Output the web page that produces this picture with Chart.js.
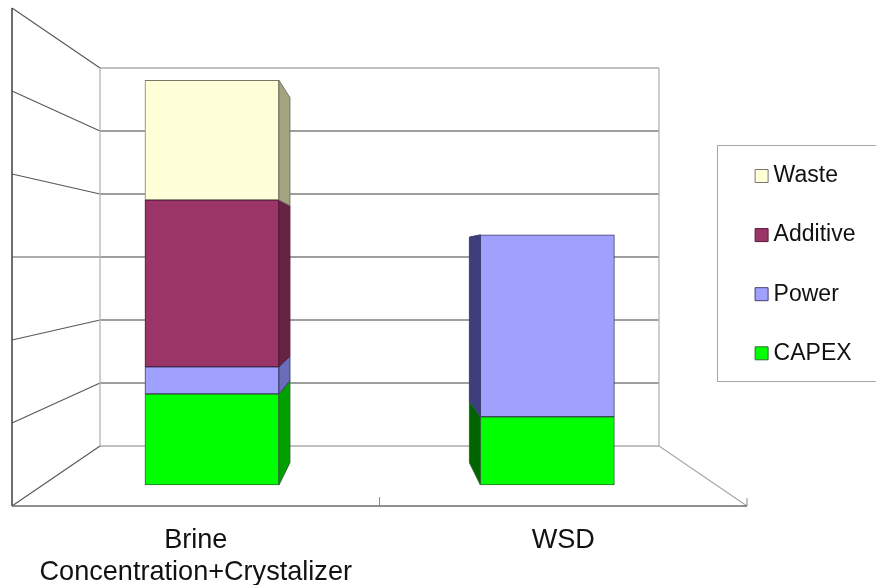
<!DOCTYPE html>
<html>
<head>
<meta charset="utf-8">
<title>Brine vs WSD</title>
<script src="https://cdn.jsdelivr.net/npm/chart.js@4/dist/chart.umd.min.js"></script>
<style>
  html, body { margin: 0; padding: 0; background: #fff; }
  #wrap { width: 876px; height: 585px; }
</style>
</head>
<body>
<div id="wrap"><canvas id="grafico"></canvas></div>
<script>
var categories = [['Brine', 'Concentration+Crystalizer'], 'WSD'];
var capex = [1.2, 0.9];
var power = [0.36, 2.4];
var additive = [2.2, 0];
var waste = [1.58, 0];
var wallTicks = [0, 1, 2, 3, 4, 5, 6];

var fontName = '"Liberation Sans", Arial, sans-serif';
var wallDepth = 88;
var barDepth = 11;
var converge = 0.098;

function toPoints(values) {
  return values.map(function (v, i) { return { x: i, y: v }; });
}

function line(ctx, x1, y1, x2, y2, color, width) {
  ctx.strokeStyle = color;
  ctx.lineWidth = width;
  ctx.beginPath();
  ctx.moveTo(x1, y1);
  ctx.lineTo(x2, y2);
  ctx.stroke();
}

// the box behind the legend, the legend itself sits over the chart's right side
var legendFrame = {
  id: 'legendFrame',
  beforeDraw: function (chart) {
    var ctx = chart.ctx;
    var lg = chart.legend;
    lg.left = 725;
    lg.right = 900;
    lg.top = 128.4;
    lg.bottom = 520;
    ctx.save();
    ctx.fillStyle = '#fff';
    ctx.strokeStyle = '#a8a8a8';
    ctx.lineWidth = 1;
    ctx.fillRect(717.5, 145.5, 170, 236);
    ctx.strokeRect(717.5, 145.5, 170, 236);
    ctx.restore();
  }
};

// back wall, left wall and floor
var walls = {
  id: 'walls',
  beforeDatasetsDraw: function (chart) {
    var ctx = chart.ctx;
    var a = chart.chartArea;
    var front = chart.scales.yFront;
    var back = chart.scales.yBack;
    var backL = a.left + wallDepth;
    var backR = a.right - wallDepth;
    ctx.save();
    wallTicks.forEach(function (t) {
      var yb = back.getPixelForValue(t);
      var yf = front.getPixelForValue(t);
      line(ctx, backL, yb, backR, yb, t === 6 || t === 0 ? '#ababab' : '#7e7e7e', 1.3);
      line(ctx, a.left, yf, backL, yb, '#5a5a5a', 1.2);
    });
    var yTop = back.getPixelForValue(6);
    var yBot = back.getPixelForValue(0);
    line(ctx, backL, yTop, backL, yBot, '#b4b4b4', 1.3);
    line(ctx, backR, yTop, backR, yBot, '#b4b4b4', 1.3);
    line(ctx, backR, yBot, a.right, a.bottom, '#a8a8a8', 1.2);
    line(ctx, a.left, a.top, a.left, a.bottom, '#4a4a4a', 1.6);
    line(ctx, a.left, a.bottom, a.right, a.bottom, '#6a6a6a', 1.6);
    line(ctx, (a.left + a.right) / 2, a.bottom - 9, (a.left + a.right) / 2, a.bottom, '#8a8a8a', 1);
    line(ctx, a.right, a.bottom - 8, a.right, a.bottom, '#8a8a8a', 1);
    ctx.restore();
  }
};

// side faces of the bars, they lean to the middle of the chart
var barSides = {
  id: 'barSides',
  afterDatasetsDraw: function (chart) {
    var ctx = chart.ctx;
    var a = chart.chartArea;
    var horizon = chart.scales.yFront.getPixelForValue(3);
    ctx.save();
    chart.data.datasets.forEach(function (ds, d) {
      chart.getDatasetMeta(d).data.forEach(function (bar, i) {
        if (ds.data[i].y === 0) return;
        var onLeft = bar.x < (a.left + a.right) / 2;
        var edge = onLeft ? bar.x + bar.width / 2 : bar.x - bar.width / 2;
        var far = onLeft ? edge + barDepth : edge - barDepth;
        ctx.fillStyle = ds.sideColors[i];
        ctx.strokeStyle = ds.borderColor;
        ctx.lineWidth = 1;
        ctx.beginPath();
        ctx.moveTo(edge, bar.y);
        ctx.lineTo(far, bar.y + (horizon - bar.y) * converge);
        ctx.lineTo(far, bar.base + (horizon - bar.base) * converge);
        ctx.lineTo(edge, bar.base);
        ctx.closePath();
        ctx.fill();
        ctx.stroke();
      });
    });
    ctx.restore();
  }
};

var ctx = document.getElementById('grafico');
var myChart = new Chart(ctx, {
  type: 'bar',
  data: {
    labels: categories,
    datasets: [
      { label: 'CAPEX', data: toPoints(capex), xAxisID: 'xBars', backgroundColor: '#00ff00', borderColor: '#2f6b2f', sideColors: ['#00a000', '#006400'] },
      { label: 'Power', data: toPoints(power), xAxisID: 'xBars', backgroundColor: '#a0a0ff', borderColor: '#3f3f70', sideColors: ['#6c6cbc', '#3e3e7c'] },
      { label: 'Additive', data: toPoints(additive), xAxisID: 'xBars', backgroundColor: '#9c3567', borderColor: '#551c38', sideColors: ['#662343', '#662343'] },
      { label: 'Waste', data: toPoints(waste), xAxisID: 'xBars', backgroundColor: '#ffffd8', borderColor: '#77776a', sideColors: ['#a4a480', '#a4a480'] }
    ]
  },
  plugins: [legendFrame, walls, barSides],
  options: {
    responsive: true,
    maintainAspectRatio: false,
    animation: false,
    layout: { padding: { left: 12, top: 8, right: 129, bottom: 0 } },
    datasets: { bar: { barThickness: 134, borderWidth: 1, borderSkipped: false } },
    scales: {
      x: {
        type: 'category',
        grid: { display: false, drawTicks: false },
        border: { display: false },
        afterFit: function (scale) { scale.height = 79; },
        ticks: {
          color: '#111',
          padding: 18,
          maxRotation: 0,
          autoSkip: false,
          font: { family: fontName, size: 27.1, lineHeight: 1.185 }
        }
      },
      xBars: { type: 'linear', offset: false, stacked: true, display: false, min: -0.596, max: 1.595 },
      y: { stacked: true, display: false, min: -0.277, max: 6.293 },
      yFront: { type: 'linear', display: false, min: 0, max: 6 },
      yBack: { type: 'linear', display: false, min: -0.952, max: 6.952 }
    },
    plugins: {
      title: { display: false },
      tooltip: { enabled: false },
      legend: {
        position: 'chartArea',
        align: 'start',
        reverse: true,
        labels: {
          usePointStyle: true,
          pointStyle: 'rect',
          boxWidth: 1,
          boxHeight: 13,
          padding: 36.1,
          color: '#111',
          font: { family: fontName, size: 23 }
        }
      }
    }
  }
});
</script>
</body>
</html>
